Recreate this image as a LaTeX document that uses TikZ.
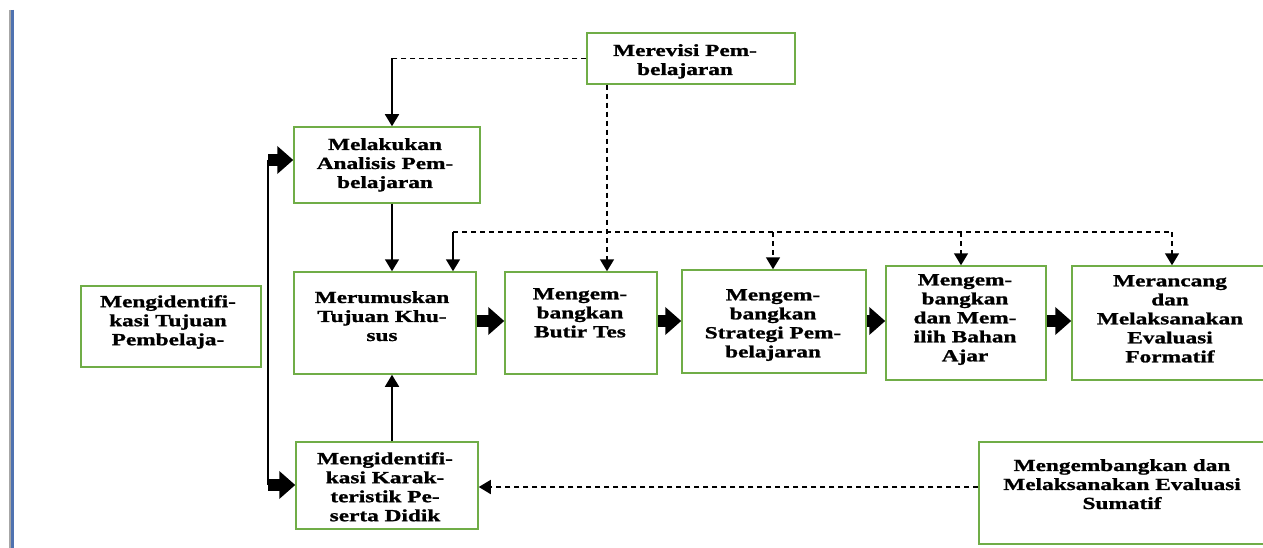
\documentclass[tikz,border=0pt]{standalone}
\usepackage{fontspec}
\setmainfont{Liberation Serif}[FakeStretch=1.37, BoldFeatures={FakeBold=1.2}]
\usetikzlibrary{arrows.meta}
\definecolor{boxgreen}{RGB}{112,173,71}
\definecolor{sideblue}{RGB}{79,114,176}
\tikzset{
  box/.style={draw=boxgreen, line width=1.5pt, rectangle, inner sep=0pt, fill=white},
  txt/.style={anchor=north, align=center, inner sep=0pt, font=\fontsize{17}{19}\selectfont\bfseries},
  conn/.style={draw=black, line width=1.6pt},
  dl/.style={conn, dash pattern=on 5pt off 4pt},
  arr/.style={-{Triangle[length=12pt,width=14pt]}},
  blockarrow/.style={draw=black, line width=12pt, line cap=butt, -{Triangle[length=16pt,width=27pt]}}
}
\begin{document}
\begin{tikzpicture}[x=1pt,y=-1pt]
\clip (0,0) rectangle (1263,548);
\fill[white] (0,0) rectangle (1263,548);
% side line
\draw[gray!70, line width=1.2pt] (10,10) -- (10,548);
\draw[sideblue, line width=2.5pt] (12.5,10) -- (12.5,548);

% boxes
\node[box, minimum width=208pt, minimum height=51pt] (rev) at (691,58.5) {};
\node[box, minimum width=186pt, minimum height=76pt] (ana) at (387,165) {};
\node[box, minimum width=182pt, minimum height=102pt] (rum) at (385,323) {};
\node[box, minimum width=152pt, minimum height=102pt] (tes) at (581,323) {};
\node[box, minimum width=184pt, minimum height=103pt] (str) at (774,321.5) {};
\node[box, minimum width=160pt, minimum height=114pt] (bah) at (966,323) {};
\node[box, minimum width=218pt, minimum height=114pt] (frm) at (1181,323) {};
\node[box, minimum width=180pt, minimum height=81pt] (tuj) at (171,326.5) {};
\node[box, minimum width=182pt, minimum height=87pt] (kar) at (387,485.5) {};
\node[box, minimum width=311pt, minimum height=102pt] (sum) at (1134.5,493) {};

% texts
\node[txt] (trev) at (685,44) {Merevisi Pem-\\belajaran};
\node[txt] (tana) at (385,138) {Melakukan\\Analisis Pem-\\belajaran};
\node[txt] (trum) at (382,291) {Merumuskan\\Tujuan Khu-\\sus};
\node[txt] (ttes) at (580,288) {Mengem-\\bangkan\\Butir Tes};
\node[txt] (tstr) at (773,289) {Mengem-\\bangkan\\Strategi Pem-\\belajaran};
\node[txt] (tbah) at (965,274) {Mengem-\\bangkan\\dan Mem-\\ilih Bahan\\Ajar};
\node[txt] (tfrm) at (1170,275) {Merancang\\dan\\Melaksanakan\\Evaluasi\\Formatif};
\node[txt] (ttuj) at (168,295) {Mengidentifi-\\kasi Tujuan\\Pembelaja-};
\node[txt] (tkar) at (385,452) {Mengidentifi-\\kasi Karak-\\teristik Pe-\\serta Didik};
\node[txt] (tsum) at (1122,459) {Mengembangkan dan\\Melaksanakan Evaluasi\\Sumatif};

% helper coordinates
\coordinate (colx) at (392,0);
\coordinate (rvx) at (607,0);
\coordinate (h0) at (453,232);
\coordinate (h1) at (773,232);
\coordinate (h2) at (961,232);
\coordinate (h3) at (1172,232);
\coordinate (ay) at (0,321);
\coordinate (ky) at (0,487);
\coordinate (lt) at (268,160);
\coordinate (lb) at (268,485);

% revision connectors
\draw[dl] (rev.west) -- (rev.west -| colx);
\draw[conn, arr] (rev.west -| colx) -- (ana.north -| colx);
\draw[dl, arr] (rev.south -| rvx) -- (tes.north -| rvx);

% dashed distribution line
\draw[dl] (h0) -- (h3);
\draw[conn, arr] (h0) -- (rum.north -| h0);
\draw[dl, arr] (h1) -- (str.north -| h1);
\draw[dl, arr] (h2) -- (bah.north -| h2);
\draw[dl, arr] (h3) -- (frm.north -| h3);

% vertical solid arrows
\draw[conn, arr] (ana.south -| colx) -- (rum.north -| colx);
\draw[conn, arr] (kar.north -| colx) -- (rum.south -| colx);

% block arrows
\draw[blockarrow] (rum.east |- ay) -- (tes.west |- ay);
\draw[blockarrow] (tes.east |- ay) -- (str.west |- ay);
\draw[blockarrow] (str.east |- ay) -- (bah.west |- ay);
\draw[blockarrow] (bah.east |- ay) -- (frm.west |- ay);

% left branch
\draw[conn] (lt) -- (lb);
\draw[blockarrow] (lt) -- (ana.west |- lt);
\draw[blockarrow] (lb) -- (kar.west |- lb);

% summative
\draw[dl, arr] (sum.west |- ky) -- (kar.east |- ky);
\end{tikzpicture}
\end{document}
